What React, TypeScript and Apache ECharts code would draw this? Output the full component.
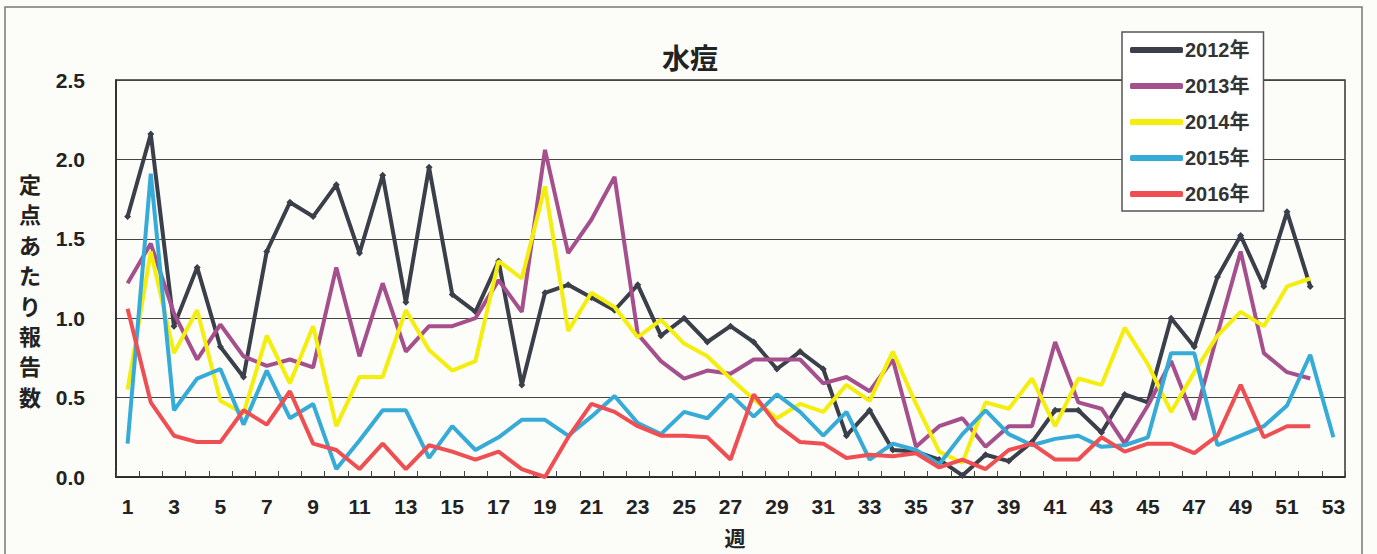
import React, { useEffect, useRef } from "react";
import * as echarts from "echarts";

const weeks = ["1","2","3","4","5","6","7","8","9","10","11","12","13","14","15","16","17","18","19","20","21","22","23","24","25","26","27","28","29","30","31","32","33","34","35","36","37","38","39","40","41","42","43","44","45","46","47","48","49","50","51","52","53"];

const yTicks = [0, 0.5, 1.0, 1.5, 2.0, 2.5];

const seriesNames = ["2012年", "2013年", "2014年", "2015年", "2016年"];

const yAxisTitleChars = ["定", "点", "あ", "た", "り", "報", "告", "数"];

const y2012 = [1.64,2.16,0.95,1.32,0.82,0.63,1.42,1.73,1.64,1.84,1.41,1.90,1.10,1.95,1.15,1.04,1.36,0.58,1.16,1.21,1.13,1.05,1.21,0.89,1.00,0.85,0.95,0.85,0.68,0.79,0.68,0.26,0.42,0.17,0.16,0.11,0.01,0.14,0.10,0.22,0.42,0.42,0.28,0.52,0.47,1.00,0.82,1.26,1.52,1.20,1.67,1.20,null];
const y2013 = [1.22,1.47,1.03,0.74,0.96,0.76,0.70,0.74,0.69,1.32,0.76,1.22,0.79,0.95,0.95,1.00,1.24,1.04,2.06,1.41,1.62,1.89,0.90,0.73,0.62,0.67,0.65,0.74,0.74,0.74,0.59,0.63,0.54,0.74,0.19,0.32,0.37,0.19,0.32,0.32,0.85,0.47,0.43,0.21,0.45,0.73,0.36,0.90,1.42,0.78,0.66,0.62,null];
const y2014 = [0.55,1.42,0.78,1.05,0.48,0.40,0.89,0.59,0.95,0.32,0.63,0.63,1.05,0.80,0.67,0.73,1.36,1.25,1.83,0.92,1.16,1.07,0.88,0.99,0.84,0.76,0.62,0.49,0.37,0.46,0.41,0.58,0.48,0.79,0.46,0.16,0.09,0.47,0.43,0.62,0.32,0.62,0.58,0.94,0.71,0.41,0.66,0.89,1.04,0.95,1.20,1.25,null];
const y2015 = [0.21,1.91,0.42,0.62,0.68,0.33,0.67,0.37,0.46,0.05,0.23,0.42,0.42,0.12,0.32,0.17,0.25,0.36,0.36,0.26,0.38,0.51,0.34,0.27,0.41,0.37,0.52,0.38,0.52,0.41,0.26,0.41,0.11,0.21,0.17,0.08,0.27,0.42,0.27,0.20,0.24,0.26,0.19,0.20,0.25,0.78,0.78,0.20,0.26,0.32,0.45,0.77,0.25];
const y2016 = [1.06,0.47,0.26,0.22,0.22,0.42,0.33,0.54,0.21,0.17,0.05,0.21,0.05,0.20,0.16,0.11,0.16,0.05,0.00,0.25,0.46,0.41,0.32,0.26,0.26,0.25,0.11,0.52,0.33,0.22,0.21,0.12,0.14,0.13,0.15,0.06,0.11,0.05,0.17,0.21,0.11,0.11,0.25,0.16,0.21,0.21,0.15,0.26,0.58,0.25,0.32,0.32,null];

const colors = ["#3b3f4a", "#a5508d", "#f3ee0c", "#37abd8", "#ef4e52"];

const FONT = "'Liberation Sans', 'Noto Sans CJK JP', sans-serif";
const CJK = "'Noto Sans CJK JP', sans-serif";

export default function App() {
  const ref = useRef<HTMLDivElement>(null);
  useEffect(() => {
    if (!ref.current) return;
    const chart = echarts.init(ref.current, undefined, { renderer: "svg" });
    const allData = [y2012, y2013, y2014, y2015, y2016];
    const yTitle = yAxisTitleChars.map((ch, i) => ({
      type: "text",
      x: 30,
      y: 183 + i * 30.4,
      style: {
        text: ch,
        fontSize: 22,
        fontWeight: "bold",
        fontFamily: CJK,
        fill: "#222",
        align: "center",
        verticalAlign: "middle",
      },
    }));
    chart.setOption({
      animation: false,
      backgroundColor: "#fcfcf8",
      grid: {
        left: 116,
        top: 80,
        right: 32,
        bottom: 77,
        show: true,
        borderColor: "#333",
        borderWidth: 1.5,
        backgroundColor: "transparent",
      },
      legend: {
        orient: "vertical",
        left: 1122,
        top: 32,
        data: seriesNames,
        icon: "roundRect",
        itemWidth: 53,
        itemHeight: 6,
        itemGap: 16,
        padding: [8, 14, 7, 8],
        backgroundColor: "#ffffff",
        borderColor: "#555",
        borderWidth: 1.5,
        borderRadius: 0,
        textStyle: {
          fontSize: 20,
          fontWeight: "bold",
          color: "#333",
          fontFamily: FONT,
          lineHeight: 20,
          padding: [0, 0, 0, -3],
        },
      },
      xAxis: {
        type: "category",
        data: weeks,
        boundaryGap: true,
        axisLine: { show: true, lineStyle: { color: "#222", width: 1.5 } },
        axisTick: { show: true, inside: true, length: 6, interval: 0, alignWithLabel: false, lineStyle: { color: "#444", width: 1 } },
        axisLabel: {
          interval: 1,
          margin: 19,
          fontSize: 21,
          fontWeight: "bold",
          color: "#222",
          fontFamily: FONT,
        },
        splitLine: { show: false },
      },
      yAxis: {
        type: "value",
        min: yTicks[0],
        max: yTicks[yTicks.length - 1],
        interval: 0.5,
        axisLine: { show: true, lineStyle: { color: "#222", width: 1.5 } },
        axisTick: { show: false },
        axisLabel: {
          margin: 31,
          fontSize: 21,
          fontWeight: "bold",
          color: "#222",
          fontFamily: FONT,
          formatter: (v: number) => v.toFixed(1),
        },
        splitLine: { show: true, lineStyle: { color: "#444", width: 1.2 } },
      },
      series: seriesNames.map((name, i) => ({
        name,
        type: "line",
        data: allData[i],
        color: colors[i],
        symbol: i === 0 ? "diamond" : "none",
        symbolSize: i === 0 ? 7 : 0,
        showSymbol: i === 0,
        itemStyle: { color: colors[i] },
        lineStyle: { color: colors[i], width: 4 },
        connectNulls: false,
        z: 2 + i,
      })),
      graphic: [
        {
          type: "rect",
          shape: { x: 5, y: 7, width: 1357, height: 560 },
          style: { fill: "none", stroke: "#777", lineWidth: 1.5 },
          silent: true,
          z: -10,
        },
        {
          type: "text",
          x: 690,
          y: 57,
          style: {
            text: "水痘",
            fontSize: 28,
            fontWeight: "bold",
            fontFamily: CJK,
            fill: "#222",
            align: "center",
            verticalAlign: "middle",
          },
        },
        ...yTitle,
        {
          type: "text",
          x: 735,
          y: 537,
          style: {
            text: "週",
            fontSize: 21,
            fontWeight: "bold",
            fontFamily: CJK,
            fill: "#222",
            align: "center",
            verticalAlign: "middle",
          },
        },
      ],
    });
    return () => chart.dispose();
  }, []);
  return (
    <div
      ref={ref}
      style={{ position: "absolute", left: 0, top: 0, width: 1377, height: 554 }}
    />
  );
}
